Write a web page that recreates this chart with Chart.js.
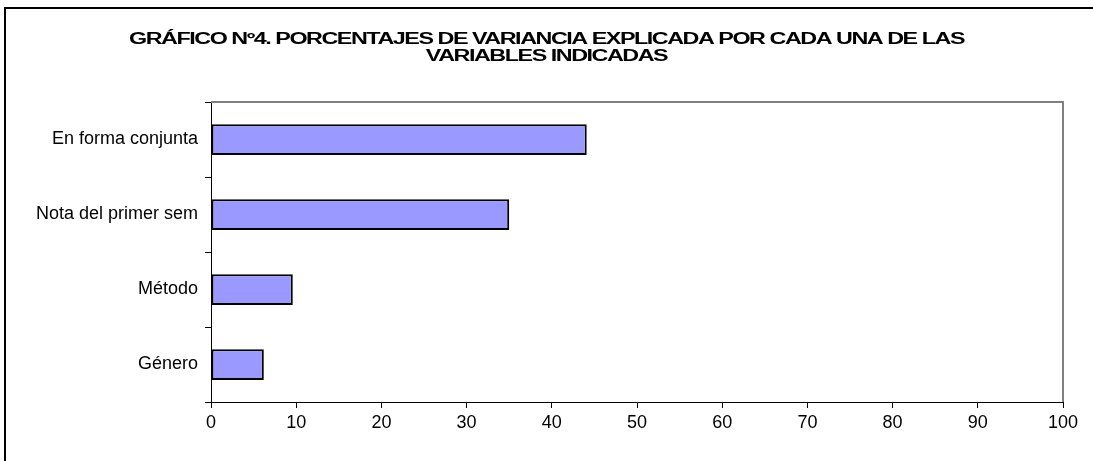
<!DOCTYPE html>
<html>
<head>
<meta charset="utf-8">
<script src="https://cdn.jsdelivr.net/npm/chart.js@4.4.0/dist/chart.umd.min.js"></script>
<style>
  body { margin: 0; background: #fff; }
  .wrap { position: relative; width: 1093px; height: 461px; }
  .frame { position: absolute; left: 4px; top: 7px; right: -10px; bottom: -10px;
           border-left: 2px solid #000; border-top: 2px solid #000; pointer-events: none; }
</style>
</head>
<body>
<div class="wrap">
  <canvas id="grafico"></canvas>
  <div class="frame"></div>
</div>
<script>
// datos del gráfico
const categorias = ['En forma conjunta', 'Nota del primer sem', 'Método', 'Género']
const porcentajes = [44.1, 35.0, 9.6, 6.2]
const titulo = ['GRÁFICO Nº4. PORCENTAJES DE VARIANCIA EXPLICADA POR CADA UNA DE LAS', 'VARIABLES INDICADAS']
const ejeMin = 0
const ejeMax = 100
const paso = 10

// titulo ancho y apretado como en el original (texto estirado a lo ancho)
const tituloAncho = {
    id: 'tituloAncho',
    afterDraw(chart) {
        const ctx = chart.ctx
        ctx.save()
        ctx.font = 'bold 16px "Liberation Sans", Arial'
        ctx.letterSpacing = '-1px'
        ctx.fillStyle = '#000'
        ctx.textAlign = 'center'
        ctx.textBaseline = 'alphabetic'
        const sx = 835 / ctx.measureText(titulo[0]).width
        const cx = chart.width / 2
        const bases = [43.5, 60.5]
        titulo.forEach((linea, i) => {
            ctx.save()
            ctx.translate(cx, bases[i])
            ctx.scale(sx, 1)
            ctx.fillText(linea, 0, 0)
            ctx.restore()
        })
        ctx.restore()
    }
}

// borde gris arriba y a la derecha del area de graficado
const marcoGris = {
    id: 'marcoGris',
    beforeDatasetsDraw(chart) {
        const { ctx, chartArea } = chart
        ctx.save()
        ctx.strokeStyle = '#808080'
        ctx.lineWidth = 2
        ctx.beginPath()
        ctx.moveTo(chartArea.left, chartArea.top)
        ctx.lineTo(chartArea.right, chartArea.top)
        ctx.lineTo(chartArea.right, chartArea.bottom)
        ctx.stroke()
        ctx.restore()
    }
}

const ctx = document.getElementById('grafico').getContext('2d')

new Chart(ctx, {
    type: 'bar',
    data: {
        labels: categorias,
        datasets: [{
            data: porcentajes,
            backgroundColor: '#9999ff',
            borderColor: '#000',
            borderWidth: 2,
            borderSkipped: false,
            barPercentage: 0.41,
            categoryPercentage: 1
        }]
    },
    options: {
        indexAxis: 'y',
        responsive: true,
        maintainAspectRatio: false,
        animation: false,
        layout: { padding: { top: 102, right: 30, bottom: 0, left: 0 } },
        plugins: {
            legend: { display: false },
            tooltip: { enabled: false },
            title: { display: false }
        },
        scales: {
            x: {
                min: ejeMin,
                max: ejeMax,
                afterFit(scale) { scale.height = 59 },
                ticks: {
                    stepSize: paso,
                    color: '#000',
                    padding: 4,
                    font: { family: 'Liberation Sans, Arial', size: 18 }
                },
                grid: { drawOnChartArea: false, drawTicks: true, tickLength: 6, color: '#000' },
                border: { color: '#000', width: 1 }
            },
            y: {
                afterFit(scale) { scale.width = 211 },
                ticks: {
                    color: '#000',
                    padding: 7,
                    font: { family: 'Liberation Sans, Arial', size: 18 }
                },
                grid: { offset: true, drawOnChartArea: false, drawTicks: true, tickLength: 6, color: '#000' },
                border: { color: '#000', width: 1 }
            }
        }
    },
    plugins: [marcoGris, tituloAncho]
})
</script>
</body>
</html>
